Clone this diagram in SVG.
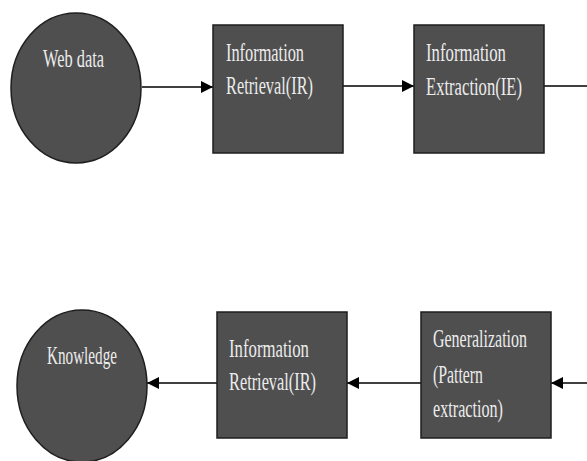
<svg xmlns="http://www.w3.org/2000/svg" width="587" height="461" viewBox="0 0 587 461">
<defs>
<marker id="ah" viewBox="0 0 12 12" refX="12" refY="6" markerWidth="12" markerHeight="12" markerUnits="userSpaceOnUse" orient="auto">
<path d="M0,0 L12,6 L0,12 Z" fill="#000"/>
</marker>
<style>
.node{fill:#4f4f4f;stroke:#1e1e1e;stroke-width:1.5}
.t{font-family:"Liberation Serif",serif;font-size:25px;fill:#ececec}
.c{stroke:#000;stroke-width:1.6;fill:none}
</style>
</defs>
<rect width="587" height="461" fill="#fff"/>
<g id="connectors">
<line class="c" x1="142" y1="87" x2="213" y2="87" marker-end="url(#ah)"/>
<line class="c" x1="343" y1="86" x2="414" y2="86" marker-end="url(#ah)"/>
<line class="c" x1="544" y1="86" x2="587" y2="86"/>
<line class="c" x1="587" y1="383" x2="551" y2="383" marker-end="url(#ah)"/>
<line class="c" x1="421" y1="383" x2="347" y2="383" marker-end="url(#ah)"/>
<line class="c" x1="217" y1="383" x2="147" y2="383" marker-end="url(#ah)"/>
</g>
<g id="web-data">
<ellipse class="node" cx="76" cy="88" rx="65" ry="75"/>
<text class="t" x="43" y="67" textLength="61" lengthAdjust="spacingAndGlyphs">Web data</text>
</g>
<g id="ir1">
<rect class="node" x="213" y="25" width="130" height="128"/>
<text class="t" x="226" y="61" textLength="78" lengthAdjust="spacingAndGlyphs">Information</text>
<text class="t" x="226" y="94" textLength="87" lengthAdjust="spacingAndGlyphs">Retrieval(IR)</text>
</g>
<g id="ie">
<rect class="node" x="414" y="25" width="130" height="128"/>
<text class="t" x="426" y="61" textLength="80" lengthAdjust="spacingAndGlyphs">Information</text>
<text class="t" x="426" y="95" textLength="96" lengthAdjust="spacingAndGlyphs">Extraction(IE)</text>
</g>
<g id="knowledge">
<ellipse class="node" cx="82" cy="386" rx="65" ry="76"/>
<text class="t" x="47" y="364" textLength="70" lengthAdjust="spacingAndGlyphs">Knowledge</text>
</g>
<g id="ir2">
<rect class="node" x="217" y="312" width="130" height="126"/>
<text class="t" x="229" y="357" textLength="80" lengthAdjust="spacingAndGlyphs">Information</text>
<text class="t" x="229" y="390" textLength="87" lengthAdjust="spacingAndGlyphs">Retrieval(IR)</text>
</g>
<g id="generalization">
<rect class="node" x="421" y="312" width="130" height="126"/>
<text class="t" x="433" y="347" textLength="94" lengthAdjust="spacingAndGlyphs">Generalization</text>
<text class="t" x="433" y="383" textLength="50" lengthAdjust="spacingAndGlyphs">(Pattern</text>
<text class="t" x="433" y="417" textLength="70" lengthAdjust="spacingAndGlyphs">extraction)</text>
</g>
</svg>
